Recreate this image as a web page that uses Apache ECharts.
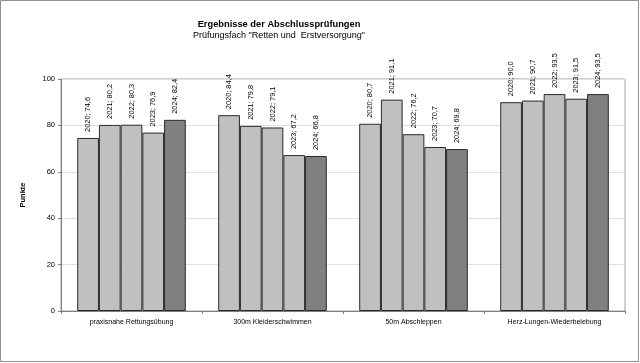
<!DOCTYPE html>
<html><head><meta charset="utf-8">
<script src="https://cdn.jsdelivr.net/npm/echarts@6/dist/echarts.min.js"></script>
<style>html,body{margin:0;padding:0;background:#fff}#c{width:640px;height:363px}</style>
</head><body><div id="c"></div>
<script>
const categories = ['praxisnahe Rettungsübung', '300m Kleiderschwimmen', '50m Abschleppen', 'Herz-Lungen-Wiederbelebung'];
const years = ['2020', '2021', '2022', '2023', '2024'];
const v2020 = [74.6, 84.4, 80.7, 90.0];
const v2021 = [80.2, 79.8, 91.1, 90.7];
const v2022 = [80.3, 79.1, 76.2, 93.5];
const v2023 = [76.9, 67.2, 70.7, 91.5];
const v2024 = [82.4, 66.8, 69.8, 93.5];
const yTicks = [0, 20, 40, 60, 80, 100];
const values = [v2020, v2021, v2022, v2023, v2024];
const colors = ['#c0c0c0', '#c0c0c0', '#c0c0c0', '#c0c0c0', '#808080'];

const chart = echarts.init(document.getElementById('c'));
const font = 'Liberation Sans, Arial, sans-serif';
chart.setOption({
  animation: false,
  textStyle: { fontFamily: font },
  graphic: [{ type: 'rect', shape: { x: 0.5, y: 0.5, width: 638, height: 361 }, style: { fill: null, stroke: '#909090', lineWidth: 1 }, silent: true }],
  title: {
    text: 'Ergebnisse der Abschlussprüfungen',
    subtext: 'Prüfungsfach "Retten und  Erstversorgung"',
    left: 274, top: 14, textAlign: 'center', itemGap: 0,
    textStyle: { fontFamily: font, fontSize: 9.3, fontWeight: 'bold', color: '#000', lineHeight: 11 },
    subtextStyle: { fontFamily: font, fontSize: 9, color: '#000', lineHeight: 11 }
  },
  grid: { left: 61, top: 79, width: 564, height: 232, show: true, borderColor: '#a0a0a0', borderWidth: 1, backgroundColor: '#fff' },
  xAxis: {
    type: 'category', data: categories,
    axisLine: { lineStyle: { color: '#808080' } },
    axisTick: { show: true, length: 3, lineStyle: { color: '#808080' } },
    axisLabel: { fontSize: 7, color: '#000', margin: 8, fontFamily: font }
  },
  yAxis: {
    type: 'value', min: 0, max: 100, interval: 20,
    name: 'Punkte', nameLocation: 'middle', nameGap: 34, nameRotate: 90,
    nameTextStyle: { fontSize: 7.5, fontWeight: 'bold', color: '#000', fontFamily: font },
    axisLine: { show: true, lineStyle: { color: '#808080' } },
    axisTick: { show: true, length: 3, lineStyle: { color: '#808080' } },
    axisLabel: { fontSize: 7.5, color: '#000', margin: 6, fontFamily: font,
      formatter: v => yTicks.includes(v) ? String(v) : '' },
    splitLine: { lineStyle: { color: '#e0e0e0' } }
  },
  series: years.map((y, i) => ({
    name: y, type: 'bar', data: values[i],
    barGap: '0%', barCategoryGap: '23%',
    itemStyle: { color: colors[i], borderColor: '#2a2a2a', borderWidth: 1 },
    label: {
      show: true, position: 'top', rotate: 90, align: 'left', verticalAlign: 'middle', distance: 6,
      fontSize: 7.4, color: '#000', fontFamily: font,
      formatter: p => p.seriesName + '; ' + p.value.toFixed(1).replace('.', ',')
    }
  }))
});
</script></body></html>
